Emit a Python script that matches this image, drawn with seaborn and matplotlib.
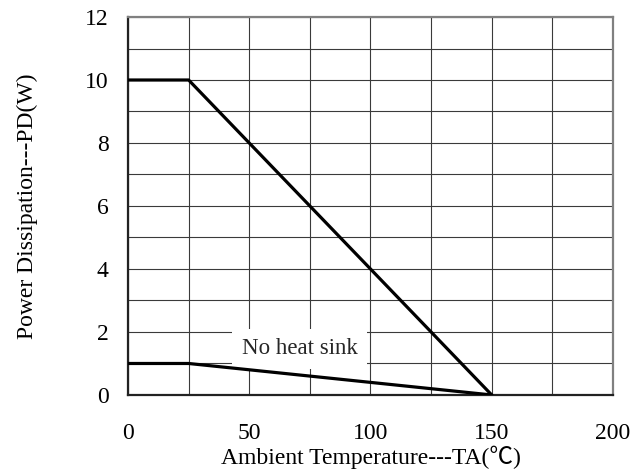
import matplotlib
matplotlib.use("Agg")
import matplotlib.pyplot as plt
import seaborn as sns
import pandas as pd
from matplotlib.ticker import MultipleLocator

# Data
temp_heatsink = [0, 25, 150]
power_heatsink = [10, 10, 0]
temp_noheatsink = [0, 25, 150]
power_noheatsink = [1, 1, 0]
x_ticks = [0, 50, 100, 150, 200]
y_ticks = [0, 2, 4, 6, 8, 10, 12]
annotation = "No heat sink"

sns.set_theme(style="white")
plt.rcParams['font.family'] = ['Liberation Serif', 'Noto Sans CJK SC']

df = pd.concat([
    pd.DataFrame({"T": temp_heatsink, "P": power_heatsink, "s": "heatsink"}),
    pd.DataFrame({"T": temp_noheatsink, "P": power_noheatsink, "s": "none"}),
])

fig = plt.figure(figsize=(6.41, 4.71), dpi=100)
ax = fig.add_axes([0.1997, 0.1614, 0.7566, 0.8025])

sns.lineplot(data=df, x="T", y="P", units="s", estimator=None, color="black",
             linewidth=2.3, ax=ax, sort=False, zorder=5, solid_joinstyle="miter")

ax.set_xlim(0, 200)
ax.set_ylim(0, 12)
ax.set_xticks(x_ticks)
ax.set_yticks(y_ticks)
ax.xaxis.set_minor_locator(MultipleLocator(25))
ax.yaxis.set_minor_locator(MultipleLocator(1))
ax.grid(True, which="both", color="#3a3a3a", linewidth=0.8)
ax.set_axisbelow(True)

fs = 17
ax.tick_params(axis="y", which="major", direction="in", length=6, width=1.5,
               color="#333333", pad=14, labelsize=fs, labelcolor="black")
ax.tick_params(axis="x", which="major", direction="in", length=0, pad=20,
               labelsize=fs, labelcolor="black")
ax.tick_params(which="minor", length=0)

for side in ["left", "bottom"]:
    ax.spines[side].set_color("#222222")
    ax.spines[side].set_linewidth(1.6)
for side in ["top", "right"]:
    ax.spines[side].set_color("#808080")
    ax.spines[side].set_linewidth(1.6)
    ax.spines[side].set_visible(True)

ax.set_xlabel("Ambient Temperature---TA(℃)", fontsize=fs, labelpad=1, color="black")
ax.set_ylabel("Power Dissipation---PD(W)", fontsize=fs, labelpad=34, color="black")

ax.text(70.7, 1.46, annotation, fontsize=fs - 0.5, ha="center", va="center", zorder=4,
        bbox=dict(facecolor="white", edgecolor="none", pad=7))

fig.savefig("out.png", dpi=100)
